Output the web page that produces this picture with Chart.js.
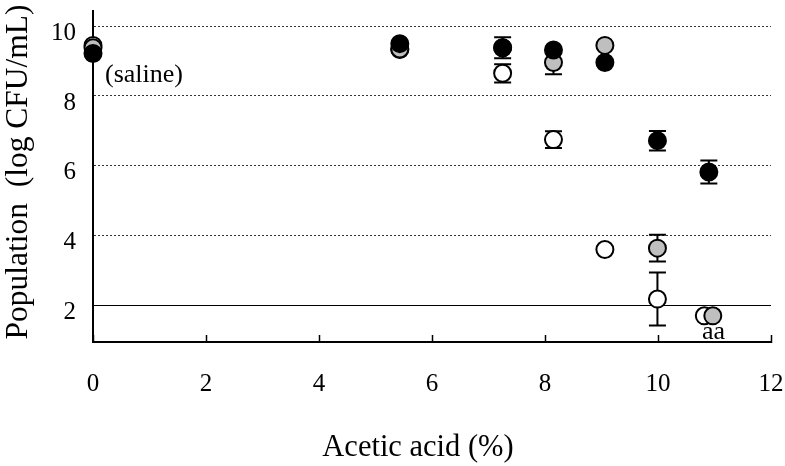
<!DOCTYPE html>
<html>
<head>
<meta charset="utf-8">
<script src="https://cdn.jsdelivr.net/npm/chart.js@4"></script>
<style>
  body { margin: 0; background: #fff; }
  canvas { display: block; }
</style>
</head>
<body>
<canvas id="survivalChart" width="785" height="466"></canvas>
<script>
// acetic acid concentration (%) and population (log CFU/mL), mean and error
const openX = [0, 5.43, 7.25, 8.15, 9.06, 9.99, 10.82];
const openY = [9.45, 9.33, 8.65, 6.75, 3.6, 2.18, 1.7];
const openErr = [0, 0, 0.26, 0.24, 0, 0.76, 0];

const grayX = [0, 5.43, 7.25, 8.15, 9.06, 9.99, 10.97];
const grayY = [9.38, 9.35, 9.38, 8.96, 9.45, 3.64, 1.7];
const grayErr = [0, 0, 0, 0.34, 0, 0.38, 0];

const blackX = [0, 5.43, 7.25, 8.15, 9.06, 9.99, 10.9];
const blackY = [9.22, 9.5, 9.38, 9.32, 8.96, 6.72, 5.82];
const blackErr = [0, 0, 0.3, 0, 0, 0.28, 0.33];

const xTicks = [0, 2, 4, 6, 8, 10, 12];
const yTicks = [2, 4, 6, 8, 10];
const limitLine = [2];

const serif = "'Liberation Serif', 'Times New Roman', serif";

function toPoints(xs, ys, errs) {
  return xs.map((x, i) => ({ x: x, y: ys[i], err: errs[i] }));
}

function series(label, xs, ys, errs, fill, order) {
  return {
    label: label,
    data: toPoints(xs, ys, errs),
    backgroundColor: fill,
    borderColor: "#000",
    borderWidth: 2,
    pointRadius: 8.5,
    pointHoverRadius: 8.5,
    showLine: false,
    clip: false,
    order: order
  };
}

// fixed box sizes so the plot area lands where it should
function fixSize(w, h) {
  return (s) => {
    if (w !== null) s.width = w;
    if (h !== null) s.height = h;
    s.paddingTop = 0;
    s.paddingBottom = 0;
    s.paddingLeft = 0;
    s.paddingRight = 0;
  };
}

// vertical error bars, drawn under the markers
const errorBars = {
  id: "errorBars",
  beforeDatasetsDraw(chart) {
    const ctx = chart.ctx;
    const yScale = chart.scales.y;
    ctx.save();
    ctx.strokeStyle = "#000";
    ctx.lineWidth = 2;
    chart.data.datasets.forEach((ds, di) => {
      const meta = chart.getDatasetMeta(di);
      ds.data.forEach((p, i) => {
        if (!p.err) return;
        const px = meta.data[i].x;
        const top = yScale.getPixelForValue(p.y + p.err);
        const bottom = yScale.getPixelForValue(p.y - p.err);
        ctx.beginPath();
        ctx.moveTo(px, top);
        ctx.lineTo(px, bottom);
        ctx.moveTo(px - 8.5, top);
        ctx.lineTo(px + 8.5, top);
        ctx.moveTo(px - 8.5, bottom);
        ctx.lineTo(px + 8.5, bottom);
        ctx.stroke();
      });
    });
    ctx.restore();
  }
};

// axis titles and the notes inside the plot
const annotations = {
  id: "annotations",
  afterDraw(chart) {
    const ctx = chart.ctx;
    const xs = chart.scales.x;
    const ys = chart.scales.y;
    ctx.save();
    ctx.fillStyle = "#000";
    ctx.textAlign = "center";
    ctx.textBaseline = "middle";

    ctx.font = "30.5px " + serif;
    ctx.fillText("Acetic acid (%)", 418, 448);

    ctx.save();
    ctx.font = "31.5px " + serif;
    ctx.translate(19, 172);
    ctx.rotate(-Math.PI / 2);
    ctx.fillText("Population  (log CFU/mL)", 0, 0);
    ctx.restore();

    ctx.font = "26px " + serif;
    ctx.textAlign = "left";
    ctx.fillText("(saline)", xs.getPixelForValue(0) + 12, ys.getPixelForValue(8.6));

    ctx.textAlign = "center";
    ctx.textBaseline = "alphabetic";
    const ax = (xs.getPixelForValue(openX[6]) + xs.getPixelForValue(grayX[6])) / 2 + 5;
    ctx.fillText("aa", ax, ys.getPixelForValue(openY[6]) + 23);
    ctx.restore();
  }
};

new Chart(document.getElementById("survivalChart"), {
  type: "scatter",
  data: {
    datasets: [
      series("Black", blackX, blackY, blackErr, "#000", 0),
      series("Gray", grayX, grayY, grayErr, "#bfbfbf", 1),
      series("Open", openX, openY, openErr, "#fff", 2)
    ]
  },
  options: {
    responsive: false,
    animation: false,
    events: [],
    layout: { padding: { top: 8, right: 14, left: 0, bottom: 0 } },
    plugins: { legend: { display: false }, tooltip: { enabled: false } },
    scales: {
      x: {
        type: "linear",
        min: 0,
        max: 12,
        afterBuildTicks: (s) => { s.ticks = xTicks.map(v => ({ value: v })); },
        afterFit: fixSize(null, 124),
        grid: {
          drawOnChartArea: false,
          drawTicks: true,
          tickLength: -7,
          tickWidth: 1.5,
          tickColor: "#000"
        },
        border: { display: true, color: "#000", width: 2 },
        ticks: {
          color: "#000",
          padding: 34,
          maxRotation: 0,
          font: { family: serif, size: 25 }
        }
      },
      y: {
        type: "linear",
        min: 0.95,
        max: 10.45,
        afterBuildTicks: (s) => { s.ticks = yTicks.map(v => ({ value: v })); },
        afterFit: fixSize(93, null),
        grid: {
          drawTicks: false,
          lineWidth: 1,
          color: (c) => (c.tick && c.tick.value === 2 ? "rgba(0,0,0,0)" : "#333")
        },
        border: { display: true, color: "#000", width: 2, dash: [2, 2] },
        ticks: {
          color: "#000",
          padding: 17,
          labelOffset: 7,
          font: { family: serif, size: 25 }
        }
      },
      // solid reference line at 2 log CFU/mL
      yLimit: {
        type: "linear",
        position: "left",
        min: 0.95,
        max: 10.45,
        afterBuildTicks: (s) => { s.ticks = limitLine.map(v => ({ value: v })); },
        afterFit: fixSize(0, null),
        grid: { drawTicks: false, lineWidth: 1, color: "#000" },
        border: { display: false },
        ticks: { display: false }
      }
    }
  },
  plugins: [errorBars, annotations]
});
</script>
</body>
</html>
